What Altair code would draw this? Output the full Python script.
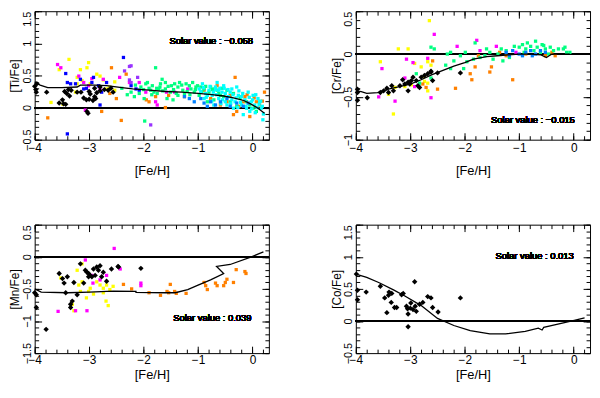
import altair as alt
import pandas as pd

FONT = "Liberation Sans"
GROUPS = ["yellow", "magenta", "blue", "purple", "orange", "green", "cyan", "dodger", "black"]
COLORS = ["#ffff00", "#ff00ff", "#0000ff", "#9933ff", "#ff8000", "#00ff80", "#00ffff", "#0080ff", "#000000"]

FEH_DOMAIN = [-4.0, 0.3]
FEH_MAJOR = [-4, -3, -2, -1, 0]
FEH_MINOR = [round(-4 + 0.2 * i, 1) for i in range(22)]

# ---------------- [Ti/Fe] ----------------
TI_BLACK = [(-4.0, 0.33), (-3.98, 0.28), (-3.96, 0.37), (-3.97, 0.24), (-3.78, 0.24), (-3.55, 0.07),
            (-3.49, 0.12), (-3.47, 0.06), (-3.43, 0.05), (-3.45, 0.25), (-3.41, 0.22), (-3.36, 0.18),
            (-3.38, 0.28), (-3.33, 0.27), (-3.22, 0.24), (-3.15, 0.24), (-3.1, 0.15), (-3.05, 0.12),
            (-3.0, 0.13), (-2.93, 0.11), (-2.88, 0.14), (-3.04, -0.06), (-3.02, -0.09), (-2.98, 0.21),
            (-2.9, 0.17), (-2.86, 0.23), (-2.9, 0.3), (-2.8, 0.32), (-2.72, 0.28), (-2.65, 0.27),
            (-2.6, 0.3), (-2.56, 0.24), (-3.0, 0.25), (-2.8, 0.26)]
TI_YELLOW = [(-3.7, 0.08), (-3.55, 0.59), (-3.37, 0.75), (-3.22, 0.47), (-3.16, 0.59), (-3.04, 0.62),
             (-3.01, 0.7), (-3.13, 0.42), (-3.22, 0.37), (-2.86, 0.52), (-2.8, 0.49), (-2.74, 0.43),
             (-2.68, 0.29), (-2.62, 0.32), (-2.98, 0.37), (-3.25, 0.24), (-2.53, 0.27), (-2.53, 0.4),
             (-3.48, 0.05)]
TI_MAGENTA = [(-3.58, 0.67), (-3.52, 0.62), (-3.19, 0.49), (-3.1, 0.39), (-3.01, 0.34), (-2.95, 0.45),
              (-2.74, 0.44), (-3.07, -0.04), (-2.44, 0.47), (-2.26, 0.39), (-2.08, 0.39), (-1.96, 0.24),
              (-1.78, 0.09), (-1.75, 0.04), (-1.58, 0.24), (-1.43, 0.24), (-1.19, 0.29), (-2.8, 0.28)]
TI_BLUE = [(-3.43, 0.53), (-3.4, -0.41), (-3.4, 0.39), (-3.34, 0.37), (-3.16, 0.44), (-3.1, 0.29),
           (-2.95, 0.39), (-2.92, 0.47), (-2.83, 0.34), (-2.8, 0.04), (-2.77, 0.24), (-2.68, 0.39),
           (-2.37, 0.78), (-2.23, 0.34), (-2.14, 0.29), (-2.08, 0.27), (-3.25, 0.37), (-3.05, 0.3)]
TI_PURPLE = [(-2.35, 0.57), (-2.26, 0.64), (-2.23, 0.65), (-2.26, 0.43), (-2.23, 0.39), (-2.11, 0.47),
             (-1.87, -0.27)]
TI_ORANGE = [(-3.76, -0.16), (-2.77, -0.06), (-2.59, 0.62), (-2.5, 0.14), (-2.41, -0.2), (-2.32, 0.52),
             (-1.9, 0.09), (-1.78, 0.17), (-1.6, 0.0), (-1.54, 0.19), (-1.25, 0.17), (-0.89, 0.27),
             (-0.77, 0.14), (-0.65, 0.34), (-0.47, 0.09), (-0.35, -0.11), (-0.32, 0.47), (-0.29, -0.06),
             (-0.17, 0.09), (-0.14, 0.17), (-0.05, -0.14), (0.07, 0.09), (0.13, 0.04), (0.22, 0.24),
             (-0.41, 0.19), (-0.59, 0.04), (-2.62, 0.22), (-1.95, 0.12), (-0.1, 0.2), (0.03, 0.15),
             (0.18, 0.1), (-0.25, 0.02)]
TI_GREEN = [(-2.23, 0.24), (-2.17, 0.17), (-1.98, -0.21), (-1.96, 0.37), (-1.84, 0.34), (-1.78, 0.62),
            (-1.72, 0.29), (-1.66, 0.44), (-1.6, 0.39), (-1.49, 0.34), (-1.37, 0.32), (-1.28, 0.27),
            (-1.13, 0.29), (-1.01, 0.34), (-0.95, 0.32), (-0.89, 0.29), (-0.77, 0.32), (-0.71, 0.29),
            (-0.65, 0.27), (-0.53, 0.17), (-0.41, 0.09), (-0.29, 0.02), (-0.05, 0.04), (-2.08, 0.22),
            (-1.93, 0.39), (-1.87, 0.27), (-1.75, 0.22), (-1.6, 0.29), (-1.51, 0.24), (-1.43, 0.37),
            (-1.34, 0.39), (-1.25, 0.22), (-1.16, 0.34), (-1.07, 0.24), (-0.98, 0.19), (-0.83, 0.09),
            (-0.71, 0.12), (-0.59, 0.19), (-0.47, 0.27), (-0.35, 0.22), (-0.23, 0.14), (-0.11, 0.09),
            (0.01, -0.01), (0.07, -0.06), (-2.05, 0.32), (-1.99, 0.14), (-1.81, 0.24), (-1.69, 0.37),
            (-1.57, 0.14), (-1.46, 0.12), (-1.37, 0.19), (-1.22, 0.37), (-1.1, 0.39), (-1.04, 0.32),
            (-2.4, 0.3), (-2.3, 0.2), (-1.9, 0.3), (-1.85, 0.2), (-1.7, 0.32), (-1.65, 0.26),
            (-1.55, 0.33), (-1.45, 0.28), (-1.4, 0.22), (-1.3, 0.35), (-1.2, 0.25), (-1.15, 0.2),
            (-1.05, 0.28), (-0.93, 0.25), (-0.86, 0.33), (-0.8, 0.24), (-0.74, 0.28), (-0.62, 0.22),
            (-0.56, 0.3), (-2.15, 0.35), (-2.0, 0.28), (-1.76, 0.3)]
TI_CYAN = [(-0.98, 0.29), (-0.92, 0.37), (-0.86, 0.22), (-0.8, 0.27), (-0.74, 0.19), (-0.68, 0.32),
           (-0.62, 0.14), (-0.56, 0.24), (-0.5, 0.09), (-0.44, 0.17), (-0.38, 0.29), (-0.32, 0.09),
           (-0.26, 0.19), (-0.2, 0.04), (-0.14, 0.12), (-0.08, 0.24), (-0.02, 0.09), (0.04, 0.04),
           (0.1, 0.14), (0.16, -0.01), (0.19, -0.19), (-0.17, -0.11), (-0.05, -0.06), (-0.35, -0.01),
           (-0.47, 0.04), (-0.71, 0.04), (-0.83, 0.19), (-0.41, 0.24), (-0.29, 0.32), (-0.53, 0.34),
           (-0.65, 0.39), (0.01, 0.19), (0.13, 0.09), (-0.11, -0.01), (-0.2, 0.17), (-0.38, 0.12),
           (-0.62, 0.27), (-0.89, 0.14), (-0.95, 0.25), (-0.9, 0.31), (-0.85, 0.16), (-0.78, 0.33),
           (-0.72, 0.24), (-0.66, 0.2), (-0.6, 0.3), (-0.55, 0.12), (-0.5, 0.22), (-0.45, 0.28),
           (-0.4, 0.06), (-0.36, 0.2), (-0.3, 0.15), (-0.25, 0.26), (-0.22, 0.08), (-0.18, 0.22),
           (-0.12, 0.02), (-0.06, 0.16), (0.0, 0.12), (0.06, 0.2), (0.08, 0.0), (0.12, 0.05),
           (0.15, 0.1), (0.18, 0.02), (-0.02, -0.02), (-0.27, 0.0), (-0.58, 0.06), (-0.75, 0.1),
           (-0.68, 0.28), (-0.52, 0.3), (0.2, -0.1), (0.05, -0.08)]
TI_DODGER = [(-1.25, 0.17), (-1.16, 0.14), (-1.07, 0.09), (-0.95, 0.14), (-0.89, 0.07), (-0.83, 0.02),
             (-0.77, 0.09), (-0.68, 0.04), (-0.59, 0.09), (-0.47, 0.14), (-0.41, 0.02), (-0.29, 0.07),
             (-0.17, 0.02), (-0.08, 0.07)]
TI_MODEL = [(-4.0, 0.40), (-3.9, 0.35), (-3.76, 0.31), (-3.5, 0.31), (-3.22, 0.32), (-3.16, 0.35),
            (-2.9, 0.35), (-2.68, 0.34), (-2.4, 0.31), (-2.2, 0.29), (-1.9, 0.27), (-1.6, 0.25),
            (-1.3, 0.24), (-1.0, 0.22), (-0.75, 0.2), (-0.53, 0.18), (-0.35, 0.15), (-0.16, 0.11),
            (-0.02, 0.05), (0.08, 0.0), (0.22, -0.09)]

# ---------------- [Cr/Fe] ----------------
CR_BLACK = [(-3.97, -0.41), (-3.97, -0.45), (-3.97, -0.54), (-3.79, -0.51), (-3.55, -0.45), (-3.49, -0.43),
            (-3.43, -0.4), (-3.4, -0.45), (-3.34, -0.37), (-3.31, -0.43), (-3.19, -0.37), (-3.14, -0.3),
            (-3.1, -0.35), (-3.04, -0.33), (-3.01, -0.35), (-2.98, -0.31), (-2.95, -0.27), (-3.04, -0.43),
            (-2.86, -0.37), (-2.83, -0.39), (-2.8, -0.27), (-2.74, -0.25), (-2.68, -0.23), (-2.62, -0.21),
            (-2.59, -0.31), (-2.89, -0.31), (-2.62, -0.2), (-2.5, -0.22), (-2.08, -0.22)]
CR_YELLOW = [(-2.65, 0.39), (-3.22, 0.06), (-3.04, 0.06), (-3.55, -0.09), (-3.31, -0.7), (-2.92, -0.11),
             (-2.8, -0.15), (-2.68, -0.09), (-2.62, -0.13), (-2.74, -0.26), (-2.68, -0.34), (-2.68, -0.43),
             (-3.1, -0.38), (-2.98, -0.36), (-3.28, -0.39), (-3.4, -0.47), (-2.74, -0.32)]
CR_MAGENTA = [(-2.56, 0.23), (-3.52, -0.17), (-3.28, -0.55), (-3.58, -0.5), (-3.07, -0.06), (-2.95, -0.1),
              (-2.68, -0.05), (-2.62, -0.51), (-3.01, -0.34), (-3.1, -0.28), (-2.14, 0.09), (-1.78, 0.16),
              (-1.72, 0.04), (-1.42, 0.09), (-1.06, 0.02), (-2.92, -0.38)]
CR_ORANGE = [(-2.77, -0.35), (-2.5, -0.41), (-2.59, -0.08), (-1.9, -0.23), (-1.87, -0.3), (-2.17, -0.4),
             (-1.54, -0.21), (-1.51, -0.15), (-1.12, -0.3), (-1.24, -0.02), (-0.88, 0.0), (-0.52, -0.02),
             (-0.34, -0.02), (-0.4, 0.02), (-1.81, -0.15), (-2.71, -0.39), (-1.75, -0.02), (-1.36, 0.02)]
CR_GREEN = [(-2.62, 0.08), (-2.62, -0.28), (-2.32, 0.0), (-2.35, -0.13), (-2.26, -0.17), (-2.2, -0.08),
            (-2.08, -0.02), (-2.02, -0.17), (-1.96, -0.09), (-1.84, -0.06), (-1.81, 0.13), (-1.72, -0.04),
            (-1.63, -0.02), (-1.54, 0.02), (-1.48, -0.06), (-1.39, 0.0), (-1.33, 0.06), (-1.24, 0.04),
            (-1.18, -0.04), (-1.09, 0.09), (-1.0, 0.08), (-0.94, 0.11), (-0.88, 0.06), (-0.79, 0.09),
            (-0.73, 0.04), (-0.67, 0.08), (-0.58, 0.11), (-0.52, 0.06), (-0.43, 0.08), (-0.37, 0.04),
            (-0.28, 0.06), (-0.19, 0.06), (-0.13, 0.02), (-0.07, 0.02), (-0.16, 0.08), (-0.85, 0.13),
            (-0.7, 0.15), (-0.55, 0.1), (-0.91, 0.02), (-0.61, 0.02), (-0.46, 0.0), (-1.6, 0.06),
            (-1.3, -0.08), (-1.99, 0.02), (-2.26, 0.02), (-2.83, -0.34), (-2.89, -0.23), (-2.56, 0.06)]
CR_DODGER = [(-1.24, 0.02), (-1.12, 0.04), (-1.0, 0.0), (-0.88, 0.02), (-0.79, 0.04), (-0.7, 0.0),
             (-0.61, 0.04), (-0.52, 0.02), (-0.94, -0.02), (-0.76, -0.02), (-1.18, -0.02)]
CR_MODEL = [(-4.0, -0.43), (-3.9, -0.44), (-3.8, -0.46), (-3.6, -0.45), (-3.4, -0.41), (-3.2, -0.38),
            (-3.0, -0.35), (-2.8, -0.3), (-2.6, -0.24), (-2.4, -0.19), (-2.2, -0.14), (-2.0, -0.1),
            (-1.84, -0.06), (-1.6, -0.03), (-1.4, -0.02), (-1.2, -0.01), (-1.0, 0.0), (-0.8, 0.0),
            (-0.6, -0.01), (-0.5, -0.04), (-0.45, -0.02), (-0.4, 0.0), (-0.07, 0.0)]

# ---------------- [Mn/Fe] ----------------
MN_BLACK = [(-4.0, -0.56), (-3.97, -0.59), (-3.97, -0.79), (-3.79, -1.13), (-3.55, -0.26), (-3.49, -0.34),
            (-3.46, -0.41), (-3.4, -0.31), (-3.43, -0.56), (-3.34, -0.79), (-3.34, -0.74), (-3.31, -0.69),
            (-3.28, -0.4), (-3.22, -0.59), (-3.16, -0.11), (-3.1, -0.41), (-3.07, -0.21), (-3.04, -0.24),
            (-3.01, -0.26), (-2.98, -0.29), (-2.95, -0.31), (-2.92, -0.19), (-2.89, -0.29), (-2.86, -0.16),
            (-2.83, -0.21), (-2.8, -0.14), (-2.77, -0.31), (-2.74, -0.24), (-2.68, -0.38), (-2.59, -0.19),
            (-2.47, -0.15), (-2.46, -0.16), (-2.05, -0.18), (-3.01, -0.31)]
MN_YELLOW = [(-3.52, -0.33), (-3.22, -0.21), (-3.19, -0.44), (-3.13, -0.11), (-3.13, -0.39), (-3.16, -0.54),
             (-3.05, -0.64), (-3.01, -0.54), (-2.98, -0.49), (-2.92, -0.58), (-2.86, -0.39), (-2.8, -0.44),
             (-2.74, -0.49), (-2.68, -0.44), (-2.62, -0.51), (-2.56, -0.46), (-2.69, -0.69), (-2.65, -0.76),
             (-3.31, -0.74), (-2.74, -0.56), (-3.28, -0.84)]
MN_MAGENTA = [(-3.57, -0.85), (-3.25, -0.84), (-3.07, -0.05), (-3.04, -0.84), (-2.93, -0.41), (-2.8, -0.36),
              (-2.68, -0.29), (-2.54, 0.13), (-2.43, -0.19), (-2.05, -0.41), (-2.05, -0.45), (-2.95, -0.29)]
MN_ORANGE = [(-2.37, -0.43), (-2.22, -0.5), (-1.9, -0.56), (-1.69, -0.6), (-1.57, -0.54), (-1.54, -0.56),
             (-1.51, -0.43), (-1.43, -0.54), (-1.4, -0.57), (-1.22, -0.57), (-0.89, -0.4), (-0.86, -0.45),
             (-0.83, -0.51), (-0.68, -0.41), (-0.65, -0.45), (-0.53, -0.45), (-0.5, -0.4), (-0.47, -0.35),
             (-0.35, -0.4), (-0.3, -0.2), (-0.14, -0.23), (-0.12, -0.26)]
MN_MODEL = [(-4.0, -0.5), (-3.88, -0.55), (-3.4, -0.56), (-3.0, -0.55), (-2.56, -0.535), (-2.14, -0.54),
            (-2.14, -0.555), (-1.6, -0.56), (-1.42, -0.56), (-1.19, -0.51), (-1.0, -0.44), (-0.77, -0.36),
            (-0.53, -0.26), (-0.66, -0.15), (-0.41, -0.12), (-0.02, 0.0), (0.2, 0.075)]

# ---------------- [Co/Fe] ----------------
CO_BLACK = [(-3.99, 0.73), (-3.97, 0.48), (-3.97, 0.33), (-3.81, 0.45), (-3.55, 0.54), (-3.47, 0.36),
            (-3.43, 0.13), (-3.4, 0.4), (-3.34, 0.43), (-3.35, 0.29), (-3.29, 0.21), (-3.25, 0.21),
            (-3.16, 0.41), (-3.13, 0.43), (-3.07, 0.23), (-3.05, 0.19), (-3.04, 0.11), (-3.04, -0.09),
            (-2.99, 0.28), (-2.95, 0.18), (-2.92, 0.61), (-2.91, 0.23), (-2.89, 0.15), (-2.83, 0.26),
            (-2.77, 0.29), (-2.68, 0.38), (-2.62, 0.36), (-2.59, 0.21), (-2.49, 0.14), (-2.08, 0.36),
            (-3.39, 0.45), (-3.0, 0.2)]
CO_MODEL = [(-4.0, 0.73), (-3.8, 0.68), (-3.58, 0.6), (-3.3, 0.48), (-3.1, 0.39), (-2.8, 0.24),
            (-2.5, 0.04), (-2.2, -0.07), (-1.9, -0.15), (-1.54, -0.2), (-1.25, -0.2), (-0.89, -0.16),
            (-0.65, -0.11), (-0.58, -0.14), (-0.55, -0.1), (-0.29, -0.05), (0.01, 0.01), (0.2, 0.05)]

SOLAR = ["Solar value : \u22120.058", "Solar value : \u22120.015", "Solar value :  0.039", "Solar value :  0.013"]
SOLAR_POS = [(0.01, 1.03), (0.02, -0.77), (-0.02, -0.96), (0.0, 1.01)]

MAJ, MIN = 7, 4
PANEL_W, PANEL_H = 237, 130


def tick_axis(orient, values, size):
    return alt.Axis(orient=orient, values=values, tickSize=size, offset=-size, labels=False,
                    tickColor="black", tickOpacity=1, domainOpacity=0, grid=False, title=None)


def panel(groups, model, ytitle, ydom, ymajor, solar, spos, xlab_pad, xtitle_pad):
    xs = alt.Scale(domain=FEH_DOMAIN, nice=False, zero=False)
    ys = alt.Scale(domain=ydom, nice=False, zero=False)
    rows = []
    for g, pts in groups:
        for x, y in pts:
            rows.append({"feh": x, "ab": y, "grp": g})
    pts = pd.DataFrame(rows)
    crv = pd.DataFrame(model, columns=["feh", "ab"])
    crv["i"] = range(len(crv))
    yminor = [round(ydom[0] + 0.1 * i, 1) for i in range(int(round((ydom[1] - ydom[0]) * 10)) + 1)]

    X = lambda: alt.X("feh:Q", scale=xs, axis=None)
    Y = lambda: alt.Y("ab:Q", scale=ys, axis=None)
    color = alt.Color("grp:N", scale=alt.Scale(domain=GROUPS, range=COLORS), legend=None)

    zero = alt.Chart(pts).mark_rule(color="black", strokeWidth=1.3).encode(
        y=alt.YDatum(0, scale=ys, axis=None))
    colored = alt.Chart(pts).transform_filter(alt.datum.grp != "black").mark_point(
        shape="square", filled=True, size=11, opacity=1).encode(x=X(), y=Y(), color=color)
    black = alt.Chart(pts).transform_filter(alt.datum.grp == "black").mark_point(
        shape="diamond", filled=True, size=30, opacity=1, color="black").encode(x=X(), y=Y())
    line = alt.Chart(crv).mark_line(color="black", strokeWidth=1.3).encode(x=X(), y=Y(), order="i:Q")
    text = alt.Chart(crv).mark_text(align="right", baseline="middle", font=FONT, fontSize=9.5,
                                     color="black").encode(
        x=alt.XDatum(spos[0], scale=xs, axis=None), y=alt.YDatum(spos[1], scale=ys, axis=None),
        text=alt.value(solar))

    left_main = alt.Axis(orient="left", values=ymajor, tickSize=MAJ, offset=-MAJ,
                         labelAngle=270,
                         labelAlign={"condition": {"test": f"datum.value >= {ydom[1] - 0.01}", "value": "right"},
                                     "value": "center"},
                         labelBaseline="bottom", labelPadding=2, labelFont=FONT, labelFontSize=11,
                         labelColor="black", labelOverlap=False, labelFlush=False, format="~g",
                         tickColor="black", tickOpacity=1, domainOpacity=0, grid=False,
                         title=ytitle, titleFont=FONT, titleFontSize=12, titleFontWeight="normal",
                         titleColor="black", titlePadding=0)
    bottom_main = alt.Axis(orient="bottom", values=FEH_MAJOR, tickSize=MAJ, offset=-MAJ,
                           labelAngle=0, labelPadding=xlab_pad, labelFont=FONT,
                           labelFontSize=12, labelColor="black", labelOverlap=False, labelFlush=False,
                           format="~g", tickColor="black", tickOpacity=1, domainOpacity=0, grid=False,
                           title="[Fe/H]", titleFont=FONT, titleFontSize=13, titleFontWeight="normal",
                           titleColor="black", titlePadding=xtitle_pad)

    def axl(xa, ya):
        return alt.Chart(crv).mark_line(strokeOpacity=0).encode(
            x=alt.X("feh:Q", scale=xs, axis=xa), y=alt.Y("ab:Q", scale=ys, axis=ya))

    axes = [
        axl(bottom_main, left_main),
        axl(tick_axis("top", FEH_MAJOR, MAJ), tick_axis("right", ymajor, MAJ)),
        axl(tick_axis("bottom", FEH_MINOR, MIN), tick_axis("left", yminor, MIN)),
        axl(tick_axis("top", FEH_MINOR, MIN), tick_axis("right", yminor, MIN)),
    ]
    return alt.layer(zero, colored, black, line, text, *axes).resolve_axis(
        x="independent", y="independent").properties(width=PANEL_W, height=PANEL_H)


p1 = panel([("yellow", TI_YELLOW), ("magenta", TI_MAGENTA), ("blue", TI_BLUE), ("purple", TI_PURPLE),
            ("orange", TI_ORANGE), ("green", TI_GREEN), ("cyan", TI_CYAN), ("dodger", TI_DODGER),
            ("black", TI_BLACK)], TI_MODEL, "[Ti/Fe]", [-0.5, 1.5], [-0.5, 0, 0.5, 1, 1.5], SOLAR[0],
           SOLAR_POS[0], 3, 11)
p2 = panel([("yellow", CR_YELLOW), ("magenta", CR_MAGENTA), ("orange", CR_ORANGE), ("green", CR_GREEN),
            ("dodger", CR_DODGER), ("black", CR_BLACK)], CR_MODEL, "[Cr/Fe]", [-1.0, 0.5],
           [-1, -0.5, 0, 0.5], SOLAR[1], SOLAR_POS[1], 3, 11)
p3 = panel([("yellow", MN_YELLOW), ("magenta", MN_MAGENTA), ("orange", MN_ORANGE), ("black", MN_BLACK)],
           MN_MODEL, "[Mn/Fe]", [-1.5, 0.5], [-1.5, -1, -0.5, 0, 0.5], SOLAR[2], SOLAR_POS[2], 2, 3)
p4 = panel([("black", CO_BLACK)], CO_MODEL, "[Co/Fe]", [-0.5, 1.5], [-0.5, 0, 0.5, 1, 1.5],
           SOLAR[3], SOLAR_POS[3], 2, 3)

chart = alt.concat(p1, p2, p3, p4, columns=2, spacing={"row": 86, "column": 88}, bounds="flush").properties(
    padding=0, background="white").configure_view(stroke="black", strokeWidth=1)

chart.save("out.html", embed_options={"renderer": "svg", "actions": False})
